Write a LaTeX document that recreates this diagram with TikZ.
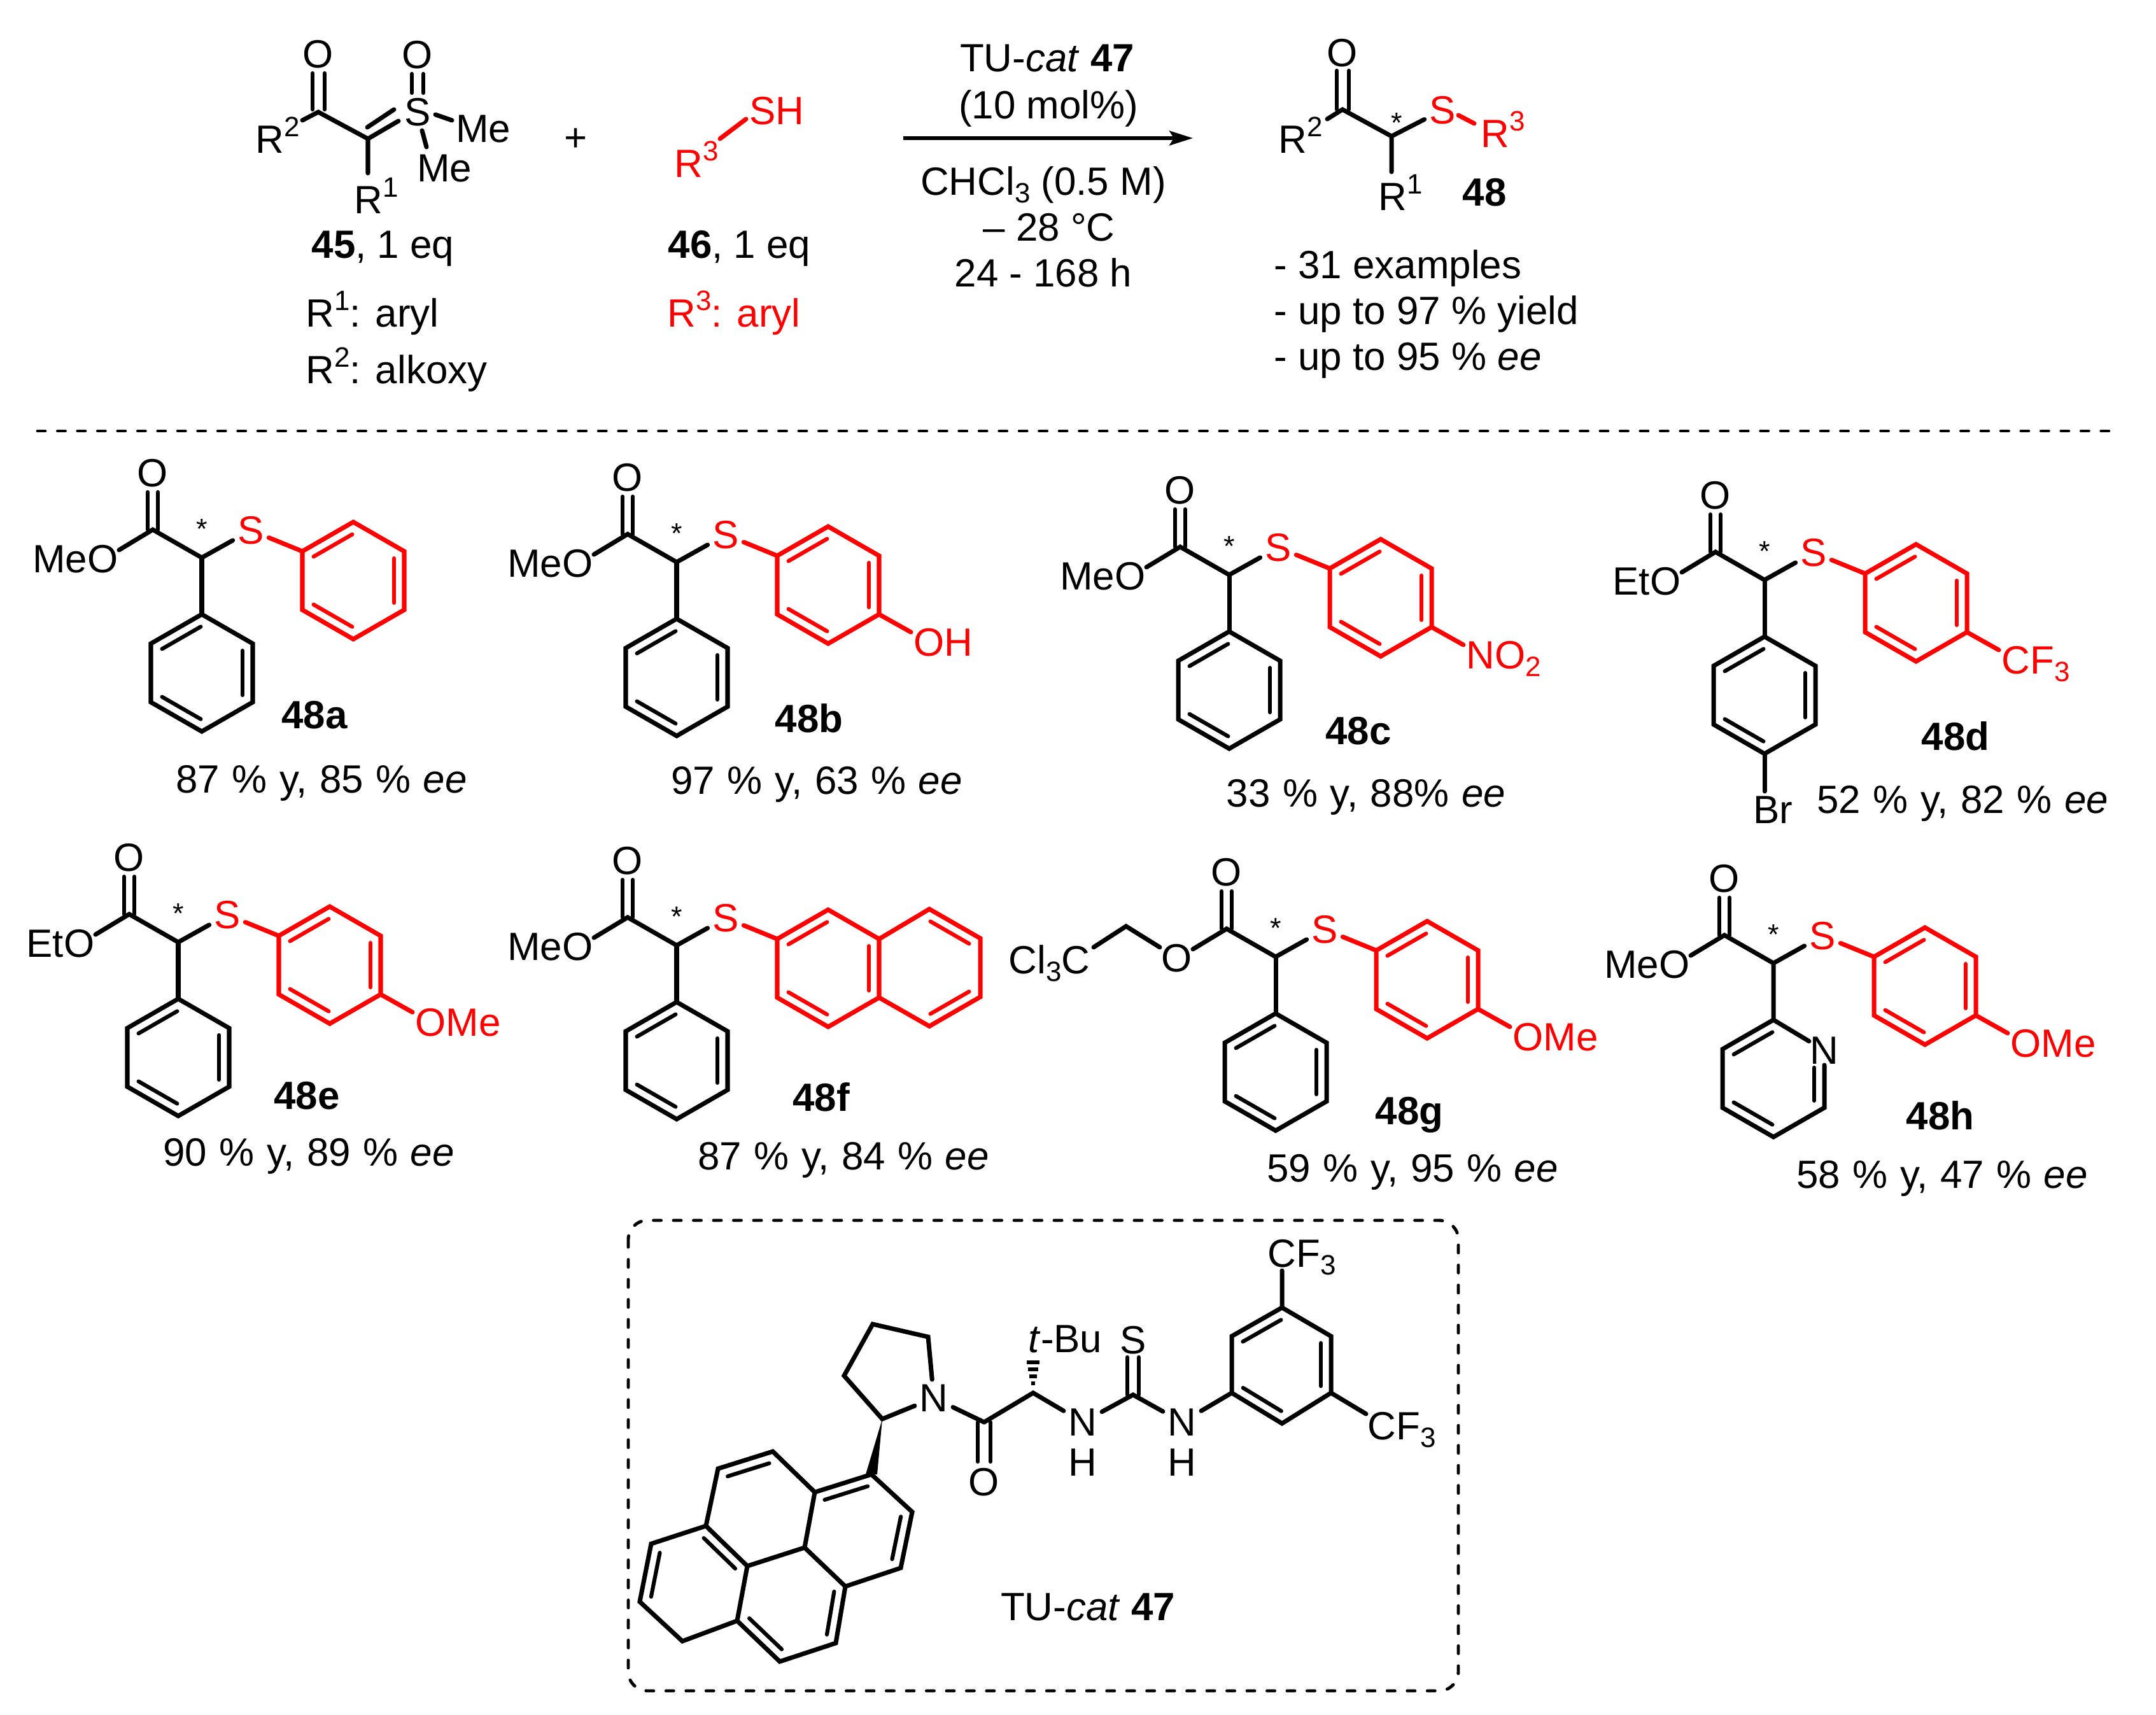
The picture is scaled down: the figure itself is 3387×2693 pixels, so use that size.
\documentclass[tikz,border=0pt]{standalone}
\usepackage{fontspec}
\setmainfont{Liberation Sans}
\usetikzlibrary{calc,arrows.meta}
\newcommand{\upn}[1]{\raisebox{0.42em}{\fontsize{12.5}{14}\selectfont #1}}
\newcommand{\dnn}[1]{\raisebox{-0.2em}{\fontsize{12.5}{14}\selectfont #1}}
\newcommand{\yt}[1]{\spaceskip=.315em\relax #1}
\tikzset{
  bond/.style={line width=2pt,line join=miter,line cap=round},
  thin bond/.style={line width=1.75pt,line cap=round},
  atom/.style={inner sep=2pt,font=\fontsize{17.6}{20}\selectfont},
  txt/.style={inner sep=0pt,anchor=base west,font=\fontsize{17.6}{20}\selectfont},
  ctr/.style={inner sep=0pt,anchor=base,font=\fontsize{17.6}{20}\selectfont},
  yld/.style={ctr},
  starmark/.style={inner sep=0pt,font=\fontsize{12.8}{14}\selectfont},
  dashrule/.style={line width=1.4pt,line cap=round,dash pattern=on 3.4pt off 5.55pt},
}
% inner line of a double bond, on the right-hand side going A -> B on the page
\newcommand{\dbl}[3][black]{\draw[thin bond,#1] ($(#2)!.12!(#3)!.16cm!-90:(#3)$) -- ($(#3)!.12!(#2)!.16cm!90:(#2)$);}
% hexagon with centre #1,#2, colour #3
\newcommand{\hexa}[3]{\begin{scope}[shift={(#1,#2)}]
  \coordinate (v1) at (0,-92);\coordinate (v2) at (80,-46);\coordinate (v3) at (80,46);
  \coordinate (v4) at (0,92);\coordinate (v5) at (-80,46);\coordinate (v6) at (-80,-46);
  \draw[bond,#3] (v1)--(v2)--(v3)--(v4)--(v5)--(v6)--cycle;
  \dbl[#3]{v6}{v1}\dbl[#3]{v2}{v3}\dbl[#3]{v4}{v5}
\end{scope}}
% ester, stereocentre, S and red aryl ring
\newcommand{\cpdcore}[3]{\begin{scope}[shift={(#1,#2)}]
  \coordinate (ca) at (0,0);\coordinate (cc) at (-77,-44);\coordinate (or) at (-130,-12);
  \coordinate (oa) at (-85,-44);\coordinate (ob) at (-69,-44);
  \coordinate (ot) at (-85,-103);\coordinate (ou) at (-69,-103);
  \node[atom] (dO) at (-77,-133) {O};
  \node[atom,anchor=east] (rO) at (-124,2) {#3};
  \node[atom,red] (S) at (77,-43) {S};
  \node[starmark] (st) at (0,-45) {*};
  \draw[bond] (or)--(cc)--(ca)--(S);
  \draw[thin bond] (oa)--(ot) (ob)--(ou);
  \hexa{238}{36}{red}
  \draw[bond,red] (S)--(v6);
  \coordinate (pa) at (v3);
\end{scope}}
\newcommand{\parasub}[3]{\begin{scope}[shift={(#1,#2)}]
  \coordinate (pe) at (368,110);
  \node[txt,red] (ps) at (372,147) {#3};
  \draw[bond,red] (pa)--(pe);
\end{scope}}
\newcommand{\phen}[2]{\begin{scope}[shift={(#1,#2)}]
  \hexa{0}{181}{black}
  \draw[bond] (ca)--(v1);
\end{scope}}
\begin{document}
\begin{tikzpicture}[x=0.01cm,y=-0.01cm]
\useasboundingbox (0,0) rectangle (3387,2693);
\fill[white] (0,0) rectangle (3387,2693);

% ---------- 45
\coordinate (a1) at (500,176);\coordinate (a2) at (578,218);
\coordinate (a3) at (475,189);\coordinate (a4) at (578,272);
\node[atom] (aO) at (500,85) {O};
\node[atom] (aS) at (656,176) {S};
\node[atom] (aSO) at (656,86) {O};
\node[atom] (aMe1) at (759,203) {Me};
\node[atom] (aMe2) at (698,265) {Me};
\node[txt] (aR2) at (401,240) {R\upn{2}};
\node[txt] (aR1) at (556,335) {R\upn{1}};
\draw[bond] (a3)--(a1)--(a2)--(a4);
\coordinate (a5) at (491,172);\coordinate (a6) at (491,115);\coordinate (a7) at (510,172);\coordinate (a8) at (510,115);
\draw[thin bond] (a5)--(a6) (a7)--(a8);
\coordinate (a9) at (626,190);\coordinate (a10) at (577,200);\coordinate (a11) at (619,172);
\draw[bond] (a2)--(a9) (a10)--(a11);
\coordinate (b1) at (647,116);\coordinate (b2) at (647,146);\coordinate (b3) at (665,116);\coordinate (b4) at (665,146);
\draw[thin bond] (b1)--(b2) (b3)--(b4);
\coordinate (b5) at (684,180);\coordinate (b6) at (710,189);\coordinate (b7) at (663,205);\coordinate (b8) at (670,231);
\draw[bond] (b5)--(b6) (b7)--(b8);
\node[txt] (t45) at (489,405) {\textbf{45}, 1 eq};
\node[txt] (tr1) at (480,513) {R\upn{1}: aryl};
\node[txt] (tr2) at (480,602) {R\upn{2}: alkoxy};
\node[atom] (plus) at (905,220) {+};
% ---------- 46
\node[txt,red] (cR3) at (1059,278) {R\upn{3}};
\node[atom,red] (cSH) at (1220,174) {SH};
\coordinate (c1) at (1131,218);\coordinate (c2) at (1172,187);
\draw[bond,red] (c1)--(c2);
\node[txt] (t46) at (1049,405) {\textbf{46}, 1 eq};
\node[txt,red] (tr3) at (1048,513) {R\upn{3}: aryl};
% ---------- arrow and conditions
\coordinate (ar1) at (1419,217);\coordinate (ar2) at (1874,217);
\draw[line width=1.5pt,-{Stealth[length=10.5pt,width=6.5pt,inset=2pt]}] (ar1)--(ar2);
\node[ctr] (k1) at (1645,112) {TU-\textit{cat} \textbf{47}};
\node[ctr] (k2) at (1647,186) {(10 mol\%)};
\node[ctr] (k3) at (1639,306) {CHCl\dnn{3} (0.5 M)};
\node[ctr] (k4) at (1648,378) {– 28 °C};
\node[ctr] (k5) at (1639,450) {24 - 168 h};
% ---------- 48
\coordinate (d1) at (2109,172);\coordinate (d2) at (2186,214);\coordinate (d3) at (2085,187);\coordinate (d4) at (2186,270);
\node[atom] (dO1) at (2109,83) {O};
\node[atom,red] (dS) at (2266,173) {S};
\node[starmark] (dst) at (2194,193) {*};
\node[txt] (dR2) at (2008,240) {R\upn{2}};
\node[txt,red] (dR3) at (2326,231) {R\upn{3}};
\node[txt] (dR1) at (2165,330) {R\upn{1}};
\draw[bond] (d3)--(d1)--(d2)--(dS) (d2)--(d4);
\coordinate (d5) at (2100,172);\coordinate (d6) at (2100,111);\coordinate (d7) at (2119,172);\coordinate (d8) at (2119,111);
\draw[thin bond] (d5)--(d6) (d7)--(d8);
\coordinate (d9) at (2291,181);\coordinate (d10) at (2316,194);
\draw[bond,red] (d9)--(d10);
\node[ctr] (t48) at (2332,323) {\textbf{48}};
\node[txt] (l1) at (2001,437) {- 31 examples};
\node[txt] (l2) at (2001,509) {- up to 97 \% yield};
\node[txt] (l3) at (2001,581) {- up to 95 \% \textit{ee}};
% ---------- rule
\coordinate (r1) at (59,677);\coordinate (r2) at (3327,677);
\draw[dashrule] (r1)--(r2);

% ---------- 48a
\cpdcore{317}{876}{MeO}\phen{317}{876}
\node[ctr] (n48a) at (494,1144) {\textbf{48a}};
\node[yld] (y48a) at (505,1245) {\yt{87 \% y, 85 \% \textit{ee}}};
% ---------- 48b
\cpdcore{1063}{883}{MeO}\phen{1063}{883}\parasub{1063}{883}{OH}
\node[ctr] (n48b) at (1271,1150) {\textbf{48b}};
\node[yld] (y48b) at (1283,1247) {\yt{97 \% y, 63 \% \textit{ee}}};
% ---------- 48c
\cpdcore{1931}{903}{MeO}\phen{1931}{903}\parasub{1931}{903}{NO\dnn{2}}
\node[ctr] (n48c) at (2134,1169) {\textbf{48c}};
\node[yld] (y48c) at (2146,1267) {\yt{33 \% y, 88\% \textit{ee}}};
% ---------- 48d
\cpdcore{2772}{911}{EtO}\phen{2772}{911}\parasub{2772}{911}{CF\dnn{3}}
\node[atom] (dBr) at (2785,1272) {Br};
\draw[bond] (v4)--(dBr.north -| v4);
\node[ctr] (n48d) at (3072,1178) {\textbf{48d}};
\node[yld] (y48d) at (3083,1277) {\yt{52 \% y, 82 \% \textit{ee}}};
% ---------- 48e
\cpdcore{280}{1480}{EtO}\phen{280}{1480}\parasub{280}{1480}{OMe}
\node[ctr] (n48e) at (482,1742) {\textbf{48e}};
\node[yld] (y48e) at (485,1831) {\yt{90 \% y, 89 \% \textit{ee}}};
% ---------- 48f
\cpdcore{1063}{1485}{MeO}
\coordinate (nq) at (v3);\coordinate (nr) at (v2);
\begin{scope}[shift={(1063,1485)}]
  \coordinate (w1) at (397,-57);\coordinate (w2) at (477,-11);\coordinate (w3) at (477,81);\coordinate (w4) at (397,127);
\end{scope}
\draw[bond,red] (nr)--(w1)--(w2)--(w3)--(w4)--(nq);
\dbl[red]{w1}{w2}\dbl[red]{w3}{w4}
\phen{1063}{1485}
\node[ctr] (n48f) at (1290,1745) {\textbf{48f}};
\node[yld] (y48f) at (1325,1837) {\yt{87 \% y, 84 \% \textit{ee}}};
% ---------- 48g
\cpdcore{2004}{1503}{O\hspace{1pt}}\phen{2004}{1503}\parasub{2004}{1503}{OMe}
\coordinate (g1) at (1769,1455);\coordinate (g2) at (1822,1488);\coordinate (g3) at (1718,1488);
\draw[bond] (g2)--(g1)--(g3);
\node[atom,anchor=base east] (gCl) at (1720,1529) {Cl\dnn{3}C};
\node[ctr] (n48g) at (2214,1766) {\textbf{48g}};
\node[yld] (y48g) at (2219,1856) {\yt{59 \% y, 95 \% \textit{ee}}};
% ---------- 48h
\cpdcore{2786}{1513}{MeO}\parasub{2786}{1513}{OMe}
\begin{scope}[shift={(2786,1513)}]
  \coordinate (h1) at (0,89);\coordinate (h3) at (80,227);\coordinate (h4) at (0,273);
  \coordinate (h5) at (-80,227);\coordinate (h6) at (-80,135);
  \coordinate (h7) at (64,164);\coordinate (h8) at (64,216);
  \node[atom,inner sep=0.3pt] (hN) at (80,137) {N};
  \draw[bond] (ca)--(h1)--(h6)--(h5)--(h4)--(h3)--(hN.south -| h3);
  \draw[bond] (h1)--(hN);
  \draw[thin bond] (h7)--(h8);
  \dbl{h6}{h1}\dbl{h4}{h5}
\end{scope}
\node[ctr] (n48h) at (3048,1774) {\textbf{48h}};
\node[yld] (y48h) at (3051,1866) {\yt{58 \% y, 47 \% \textit{ee}}};

% ---------- catalyst box
\draw[dashrule,rounded corners=0.3cm] (987,1917) rectangle (2291,2656);
% aryl
\coordinate (q1) at (2014,2054);\coordinate (q2) at (2091,2099);\coordinate (q3) at (2091,2188);
\coordinate (q4) at (2014,2236);\coordinate (q5) at (1935,2188);\coordinate (q6) at (1935,2099);
\draw[bond] (q1)--(q2)--(q3)--(q4)--(q5)--(q6)--cycle;
\dbl{q6}{q1}\dbl{q2}{q3}\dbl{q4}{q5}
\node[txt] (qF1) at (1991,1990) {CF\dnn{3}};
\node[txt] (qF2) at (2148,2261) {CF\dnn{3}};
\coordinate (q7) at (2014,1996);\coordinate (q8) at (2146,2221);
\draw[bond] (q1)--(q7) (q3)--(q8);
% thiourea
\node[atom] (N2) at (1857,2234) {N};
\node[atom] (H2) at (1857,2297) {H};
\node[atom] (N1) at (1701,2234) {N};
\node[atom] (H1) at (1701,2297) {H};
\node[atom] (tS) at (1780,2105) {S};
\coordinate (tc) at (1780,2191);\coordinate (ac) at (1623,2188);
\coordinate (s1) at (1771,2191);\coordinate (s2) at (1771,2132);\coordinate (s3) at (1789,2191);\coordinate (s4) at (1789,2132);
\draw[thin bond] (s1)--(s2) (s3)--(s4);
\draw[bond] (N1)--(tc)--(N2)--(q5);
% alpha carbon
\node[txt] (tBu) at (1615,2124) {\textit{t}-Bu};
\fill (1620,2170) rectangle (1626,2176);
\fill (1617,2159) rectangle (1629,2165);
\fill (1615,2148) rectangle (1631,2154);
\fill (1613,2137) rectangle (1633,2143);
\coordinate (am) at (1546,2234);
\draw[bond] (am)--(ac)--(N1);
\node[atom] (amO) at (1546,2328) {O};
\coordinate (m1) at (1536,2234);\coordinate (m2) at (1536,2296);\coordinate (m3) at (1556,2234);\coordinate (m4) at (1556,2296);
\draw[thin bond] (m1)--(m2) (m3)--(m4);
% pyrrolidine
\node[atom] (pN) at (1467,2196) {N};
\coordinate (p2) at (1386,2229);\coordinate (p3) at (1326,2161);\coordinate (p4) at (1371,2080);\coordinate (p5) at (1458,2100);
\draw[bond] (am)--(pN)--(p2)--(p3)--(p4)--(p5)--(pN);
% pyrene
\coordinate (a) at (1369,2316);\coordinate (b) at (1280,2344);\coordinate (cc2) at (1214,2280);
\coordinate (d) at (1128,2307);\coordinate (e) at (1109,2397);\coordinate (f) at (1023,2425);
\coordinate (g) at (1005,2516);\coordinate (h) at (1072,2578);\coordinate (i) at (1158,2546);
\coordinate (j) at (1225,2610);\coordinate (k) at (1313,2581);\coordinate (l) at (1328,2492);
\coordinate (m) at (1415,2463);\coordinate (n) at (1433,2375);\coordinate (o) at (1264,2431);\coordinate (p) at (1174,2460);
\coordinate (wa) at (1378,2316);\coordinate (wb) at (1360,2316);
\fill (p2)--(wa)--(a)--(wb)--cycle;
\draw[bond] (a)--(b)--(cc2)--(d)--(e)--(f)--(g)--(h)--(i)--(j)--(k)--(l)--(m)--(n)--cycle;
\draw[bond] (b)--(o)--(l) (o)--(p)--(e) (p)--(i);
\dbl{b}{a}\dbl{d}{cc2}\dbl{e}{p}\dbl{g}{f}\dbl{j}{i}\dbl{l}{k}\dbl{n}{m}
\node[ctr] (tTU) at (1709,2545) {TU-\textit{cat} \textbf{47}};
\end{tikzpicture}
\end{document}
